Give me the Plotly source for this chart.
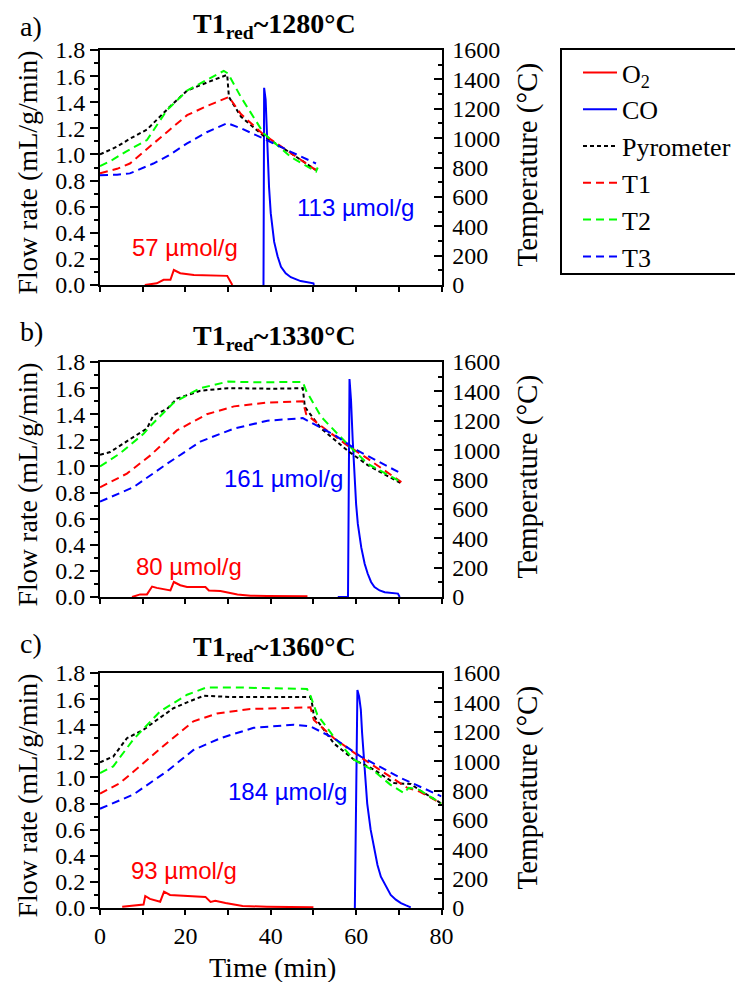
import plotly.graph_objects as go

# ---------------- data ----------------
# Panel a) T1red ~1280 °C
a_o2_t = [10.5, 13.3, 14.9, 16.5, 17.3, 18.8, 22.0, 29.8, 31.0]
a_o2_v = [0.0, 0.013, 0.04, 0.04, 0.115, 0.09, 0.077, 0.07, 0.0]
a_co_t = [38.3, 38.45, 38.8, 39.2, 39.6, 40.0, 40.4, 40.8, 41.6, 42.4, 43.5, 44.7, 47.0, 50.0, 50.1]
a_co_v = [0.0, 1.51, 1.42, 1.03, 0.75, 0.55, 0.42, 0.33, 0.22, 0.14, 0.09, 0.06, 0.03, 0.013, 0.0]
a_pyro_t = [0, 4, 7, 11, 16.5, 20.4, 25, 29.8, 30.2, 33, 38.4, 44.7, 50.6]
a_pyro_v = [889, 942, 996, 1058, 1218, 1324, 1378, 1431, 1280, 1147, 1013, 898, 782]
a_t1_t = [0, 4, 7, 11.8, 16, 20.4, 25, 30.2, 33, 38.4, 44.7, 50.6]
a_t1_v = [760, 791, 827, 942, 1049, 1156, 1218, 1280, 1164, 1022, 898, 782]
a_t2_t = [0, 3, 6, 11, 15.7, 20.4, 25, 29, 30, 33, 38.4, 44.7, 50.6, 51]
a_t2_v = [809, 853, 907, 987, 1191, 1324, 1396, 1458, 1440, 1280, 1031, 871, 773, 800]
a_t3_t = [0, 4, 7, 12.5, 16, 20.4, 25, 29.8, 33, 38.4, 44.7, 50.6]
a_t3_v = [747, 751, 760, 827, 880, 964, 1040, 1102, 1067, 996, 907, 827]

# Panel b) T1red ~1330 °C
b_o2_t = [7.5, 9.4, 11.0, 12.2, 13.3, 16.5, 17.3, 18.8, 20.4, 24.7, 25.5, 28.2, 32.2, 35.3, 39.2, 48.6]
b_o2_v = [0.0, 0.02, 0.02, 0.08, 0.07, 0.05, 0.115, 0.09, 0.077, 0.077, 0.05, 0.046, 0.02, 0.01, 0.008, 0.005]
b_co_t = [55.7, 58.1, 58.45, 58.8, 59.2, 59.6, 60.0, 60.4, 61.2, 62.0, 62.7, 63.5, 64.3, 65.5, 66.7, 69.8, 70.2]
b_co_v = [0.0, 0.0, 1.67, 1.51, 1.2, 0.94, 0.71, 0.56, 0.38, 0.255, 0.18, 0.115, 0.077, 0.05, 0.036, 0.026, 0.0]
b_pyro_t = [0, 2.4, 7.8, 11, 12.5, 15.7, 18, 23.5, 30, 36, 40.8, 47.5, 48, 51.8, 58, 62.7, 70.6]
b_pyro_v = [969, 987, 1089, 1147, 1236, 1280, 1351, 1404, 1422, 1418, 1418, 1422, 1293, 1147, 996, 898, 773]
b_t1_t = [0, 6.3, 11.8, 18, 25, 31.4, 39.2, 47.5, 48.3, 51.8, 58, 62.7, 70.6]
b_t1_v = [747, 840, 964, 1134, 1244, 1298, 1324, 1333, 1244, 1164, 1031, 942, 782]
b_t2_t = [0, 4.7, 10.2, 11.8, 17.3, 23.5, 30, 36, 47.5, 48.3, 51.8, 58, 62.7, 70.6]
b_t2_v = [889, 978, 1111, 1164, 1324, 1422, 1467, 1462, 1464, 1404, 1227, 1040, 907, 782]
b_t3_t = [0, 7.8, 15.7, 23.5, 31.4, 39.2, 47.5, 55, 60.4, 70.6]
b_t3_v = [649, 747, 907, 1058, 1147, 1200, 1218, 1102, 996, 840]

# Panel c) T1red ~1360 °C
c_o2_t = [5.2, 10.2, 10.6, 11.7, 14.1, 15.0, 16.4, 20.0, 24.7, 25.9, 27.0, 29.4, 33.4, 39.1, 50.0]
c_o2_v = [0.01, 0.026, 0.092, 0.07, 0.048, 0.125, 0.10, 0.092, 0.085, 0.046, 0.055, 0.038, 0.015, 0.01, 0.005]
c_co_t = [59.7, 60.0, 60.3, 60.7, 61.1, 61.4, 61.8, 62.2, 62.6, 63.4, 64.2, 65.0, 65.8, 67.0, 68.1, 69.3, 70.5, 71.7, 72.8]
c_co_v = [0.0, 0.9, 1.67, 1.62, 1.52, 1.34, 1.14, 0.96, 0.80, 0.60, 0.45, 0.33, 0.24, 0.166, 0.10, 0.064, 0.038, 0.02, 0.005]
c_pyro_t = [0, 3.1, 6.3, 10.2, 13.3, 17.2, 20.4, 24.3, 31.3, 39.1, 49.3, 49.7, 50.1, 54.8, 59.5, 64.2, 68.9, 72.8, 75, 80]
c_pyro_v = [992, 1031, 1156, 1214, 1280, 1360, 1400, 1445, 1436, 1436, 1436, 1387, 1307, 1120, 1010, 942, 851, 844, 800, 711]
c_t1_t = [0, 4.7, 10.2, 15.7, 21.9, 27.4, 35.2, 49.3, 50.1, 54.8, 60.8, 65.5, 70.5, 72, 75, 80]
c_t1_v = [779, 851, 987, 1124, 1271, 1324, 1355, 1366, 1280, 1156, 1031, 942, 851, 818, 791, 711]
c_t2_t = [0, 3.1, 7.8, 14.1, 20.4, 25, 31.3, 39.1, 48.5, 49.3, 50.9, 54.8, 59.5, 64.2, 68, 71.2, 72.3, 74.5, 80]
c_t2_v = [919, 964, 1147, 1339, 1452, 1502, 1502, 1498, 1491, 1445, 1316, 1164, 1010, 933, 840, 782, 818, 809, 711]
c_t3_t = [0, 7.8, 15.7, 21.9, 28.2, 36, 45.4, 49.3, 54.8, 61.1, 70.5, 80]
c_t3_v = [676, 772, 931, 1076, 1156, 1227, 1248, 1236, 1156, 1031, 885, 760]

panel_labels = ["a)", "b)", "c)"]
panel_titles = ["1280°C", "1330°C", "1360°C"]
o2_labels = ["57 µmol/g", "80 µmol/g", "93 µmol/g"]
co_labels = ["113 µmol/g", "161 µmol/g", "184 µmol/g"]
o2_label_pos = [(19.8, 0.29), (20.9, 0.23), (19.6, 0.29)]
co_label_pos = [(59.8, 0.59), (42.9, 0.91), (44.0, 0.89)]

series_names = ["O<sub>2</sub>", "CO", "Pyrometer", "T1", "T2", "T3"]
x_ticks = [0, 20, 40, 60, 80]
flow_ticks = [0.0, 0.2, 0.4, 0.6, 0.8, 1.0, 1.2, 1.4, 1.6, 1.8]
temp_ticks = [0, 200, 400, 600, 800, 1000, 1200, 1400, 1600]

panels = [
    dict(o2=(a_o2_t, a_o2_v), co=(a_co_t, a_co_v), pyro=(a_pyro_t, a_pyro_v),
         t1=(a_t1_t, a_t1_v), t2=(a_t2_t, a_t2_v), t3=(a_t3_t, a_t3_v)),
    dict(o2=(b_o2_t, b_o2_v), co=(b_co_t, b_co_v), pyro=(b_pyro_t, b_pyro_v),
         t1=(b_t1_t, b_t1_v), t2=(b_t2_t, b_t2_v), t3=(b_t3_t, b_t3_v)),
    dict(o2=(c_o2_t, c_o2_v), co=(c_co_t, c_co_v), pyro=(c_pyro_t, c_pyro_v),
         t1=(c_t1_t, c_t1_v), t2=(c_t2_t, c_t2_v), t3=(c_t3_t, c_t3_v)),
]

# ---------------- layout geometry ----------------
OFF = 8                      # page body margin
W, H = 743 - OFF, 982 - OFF  # figure size so the page fits the window
SERIF = "Liberation Serif, Times New Roman, serif"
SANS = "Liberation Sans, Arial, sans-serif"
RED, BLUE, GREEN, BLACK = "#ff0000", "#0000ff", "#00ff00", "#000000"

x_px = (100, 441.5)
panel_px = [(50, 285), (362, 597), (673, 908)]  # top, bottom (window pixels)


def px_x(p):
    return (p - OFF) / W


def px_y(p):
    return 1 - (p - OFF) / H


fig = go.Figure()

for i, pdat in enumerate(panels):
    k = i + 1
    xa = "x" if k == 1 else f"x{k}"
    yl = "y" if k == 1 else f"y{2 * k - 1}"
    yr = f"y{2 * k}"
    show = (i == 0)
    fig.add_trace(go.Scatter(x=pdat["o2"][0], y=pdat["o2"][1], mode="lines", name=series_names[0],
                             line=dict(color=RED, width=2), xaxis=xa, yaxis=yl,
                             showlegend=show, legendrank=1))
    fig.add_trace(go.Scatter(x=pdat["co"][0], y=pdat["co"][1], mode="lines", name=series_names[1],
                             line=dict(color=BLUE, width=2), xaxis=xa, yaxis=yl,
                             showlegend=show, legendrank=2))
    for j, (key, col, dash) in enumerate([("pyro", BLACK, "4px,3px"), ("t1", RED, "8px,5px"),
                                          ("t2", GREEN, "8px,5px"), ("t3", BLUE, "8px,5px")]):
        fig.add_trace(go.Scatter(x=pdat[key][0], y=pdat[key][1], mode="lines", name=series_names[2 + j],
                                 line=dict(color=col, width=2, dash=dash), xaxis=xa, yaxis=yr,
                                 showlegend=show, legendrank=3 + j))

    top, bot = panel_px[i]
    dom_y = [px_y(bot), px_y(top)]
    xname = "xaxis" if k == 1 else f"xaxis{k}"
    ylname = "yaxis" if k == 1 else f"yaxis{2 * k - 1}"
    yrname = f"yaxis{2 * k}"
    fig.layout[xname] = dict(
        domain=[px_x(x_px[0]), px_x(x_px[1])], range=[0, 80], anchor=yl,
        showline=True, linewidth=2, linecolor=BLACK, mirror=True,
        ticks="outside", ticklen=5, tickwidth=2, tickcolor=BLACK,
        tickvals=x_ticks, ticktext=[str(v) for v in x_ticks],
        minor=dict(dtick=10, tick0=0, ticks="outside", ticklen=5, tickwidth=2, tickcolor=BLACK),
        showgrid=False, zeroline=False, showticklabels=(k == 3),
        tickfont=dict(family=SERIF, size=24, color=BLACK), fixedrange=True,
    )
    fig.layout[ylname] = dict(
        domain=dom_y, range=[0, 1.8], anchor=xa,
        showline=True, linewidth=2, linecolor=BLACK,
        ticks="outside", ticklen=8, tickwidth=2, tickcolor=BLACK,
        tickvals=flow_ticks, ticktext=[f"{v:.1f}" for v in flow_ticks],
        minor=dict(dtick=0.1, tick0=0, ticks="outside", ticklen=4, tickwidth=2, tickcolor=BLACK),
        showgrid=False, zeroline=False,
        tickfont=dict(family=SERIF, size=24, color=BLACK), fixedrange=True,
    )
    fig.layout[yrname] = dict(
        domain=dom_y, range=[0, 1600], anchor=xa, overlaying=yl, side="right",
        showline=True, linewidth=2, linecolor=BLACK,
        ticks="inside", ticklen=8, tickwidth=2, tickcolor=BLACK,
        tickvals=temp_ticks, ticktext=[str(v) for v in temp_ticks],
        minor=dict(dtick=100, tick0=0, ticks="inside", ticklen=4, tickwidth=2, tickcolor=BLACK),
        showgrid=False, zeroline=False, ticklabelstandoff=4,
        tickfont=dict(family=SERIF, size=24, color=BLACK), fixedrange=True,
    )

    mid = (top + bot) / 2
    # panel letter: top of its text box sits at the figure top for panel a)
    lab = dict(text=panel_labels[i], x=px_x(31), xref="paper", yref="paper",
               font=dict(family=SERIF, size=28, color=BLACK), xanchor="center")
    if i == 0:
        lab.update(y=px_y(OFF + 0.5), yanchor="top")
    else:
        lab.update(y=px_y(top - 30), yanchor="middle")
    fig.add_annotation(showarrow=False, **lab)

    anns = [
        dict(text=f"<b>T1<sub>red</sub>~{panel_titles[i]}</b>", x=px_x(274), y=px_y(top - 25),
             xref="paper", yref="paper",
             font=dict(family=SERIF, size=28, color=BLACK)),
        dict(text="Flow rate (mL/g/min)", textangle=-90, x=px_x(27), y=px_y(mid + 5),
             xref="paper", yref="paper",
             font=dict(family=SERIF, size=28, color=BLACK)),
        dict(text="Temperature (°C)", textangle=-90, x=px_x(527), y=px_y(mid - 3),
             xref="paper", yref="paper",
             font=dict(family=SERIF, size=29, color=BLACK)),
        dict(text=o2_labels[i], x=o2_label_pos[i][0], y=o2_label_pos[i][1], xref=xa, yref=yl,
             font=dict(family=SANS, size=24, color=RED)),
        dict(text=co_labels[i], x=co_label_pos[i][0], y=co_label_pos[i][1], xref=xa, yref=yl,
             font=dict(family=SANS, size=24, color=BLUE)),
    ]
    for a in anns:
        fig.add_annotation(showarrow=False, xanchor="center", yanchor="middle", **a)

fig.add_annotation(text="Time (min)", x=px_x(272), y=px_y(967), xref="paper", yref="paper",
                   showarrow=False, xanchor="center", yanchor="middle",
                   font=dict(family=SERIF, size=28, color=BLACK))

# legend frame (extends past the right edge, as in the reference)
fig.add_shape(type="rect", xref="paper", yref="paper",
              x0=px_x(561), x1=px_x(770), y0=px_y(274), y1=px_y(49),
              line=dict(color=BLACK, width=2), fillcolor="rgba(0,0,0,0)", layer="above")

fig.update_layout(
    width=W, height=H,
    margin=dict(l=0, r=0, t=0, b=0, autoexpand=False),
    paper_bgcolor="white", plot_bgcolor="white",
    font=dict(family=SERIF, color=BLACK),
    showlegend=True,
    legend=dict(x=px_x(578), y=px_y(49), xanchor="left", yanchor="top",
                borderwidth=0, bgcolor="rgba(0,0,0,0)", itemwidth=34,
                font=dict(family=SERIF, size=26, color=BLACK),
                tracegroupgap=0, traceorder="normal"),
)

fig.write_html("out.html")
